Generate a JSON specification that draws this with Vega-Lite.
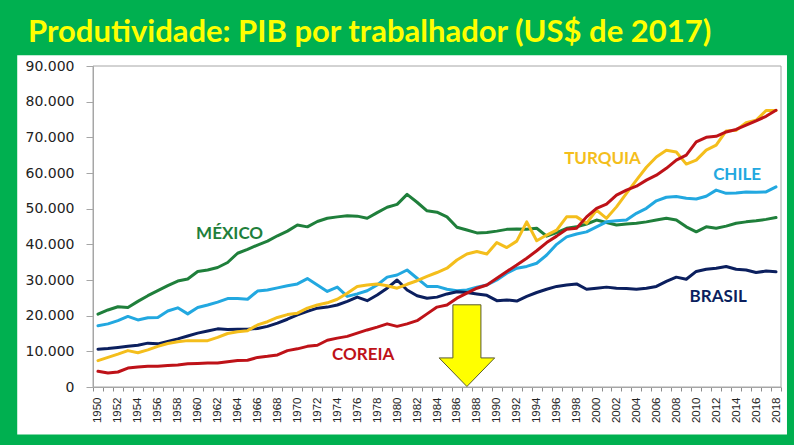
{
  "$schema": "https://vega.github.io/schema/vega-lite/v6.json",
  "width": 688,
  "height": 321,
  "autosize": {"type": "none"},
  "padding": {"left": 93, "top": 66, "right": 13, "bottom": 58},
  "background": "#00B050",
  "config": {"view": {"stroke": null}},
  "resolve": {"axis": {"x": "independent", "y": "independent"}},
  "title": {
    "text": "Produtividade: PIB por trabalhador (US$ de 2017)",
    "anchor": "start",
    "frame": "group",
    "dx": -65,
    "dy": 41,
    "offset": 23,
    "baseline": "alphabetic",
    "font": "Lato",
    "fontSize": 31,
    "fontWeight": "bold",
    "color": "#FFFF00"
  },
  "data": {
    "values": [
      {"ano": 1950, "Mexico": 20400, "Chile": 17200, "Brasil": 10600, "Turquia": 7400, "Coreia": 4400},
      {"ano": 1951, "Mexico": 21600, "Chile": 17700, "Brasil": 10800, "Turquia": 8300, "Coreia": 3900},
      {"ano": 1952, "Mexico": 22500, "Chile": 18600, "Brasil": 11100, "Turquia": 9200, "Coreia": 4200},
      {"ano": 1953, "Mexico": 22300, "Chile": 19800, "Brasil": 11400, "Turquia": 10200, "Coreia": 5300},
      {"ano": 1954, "Mexico": 24000, "Chile": 18800, "Brasil": 11700, "Turquia": 9600, "Coreia": 5600},
      {"ano": 1955, "Mexico": 25600, "Chile": 19400, "Brasil": 12300, "Turquia": 10400, "Coreia": 5800},
      {"ano": 1956, "Mexico": 27000, "Chile": 19500, "Brasil": 12100, "Turquia": 11400, "Coreia": 5800},
      {"ano": 1957, "Mexico": 28400, "Chile": 21300, "Brasil": 12800, "Turquia": 12200, "Coreia": 6000},
      {"ano": 1958, "Mexico": 29700, "Chile": 22200, "Brasil": 13500, "Turquia": 12700, "Coreia": 6200},
      {"ano": 1959, "Mexico": 30300, "Chile": 20500, "Brasil": 14300, "Turquia": 13000, "Coreia": 6500},
      {"ano": 1960, "Mexico": 32400, "Chile": 22300, "Brasil": 15100, "Turquia": 13000, "Coreia": 6600},
      {"ano": 1961, "Mexico": 32800, "Chile": 23000, "Brasil": 15700, "Turquia": 13000, "Coreia": 6700},
      {"ano": 1962, "Mexico": 33500, "Chile": 23800, "Brasil": 16300, "Turquia": 13900, "Coreia": 6700},
      {"ano": 1963, "Mexico": 34900, "Chile": 24800, "Brasil": 16100, "Turquia": 15000, "Coreia": 7100},
      {"ano": 1964, "Mexico": 37500, "Chile": 24800, "Brasil": 16200, "Turquia": 15500, "Coreia": 7400},
      {"ano": 1965, "Mexico": 38600, "Chile": 24600, "Brasil": 16200, "Turquia": 15800, "Coreia": 7500},
      {"ano": 1966, "Mexico": 39800, "Chile": 26900, "Brasil": 16400, "Turquia": 17400, "Coreia": 8300},
      {"ano": 1967, "Mexico": 40900, "Chile": 27200, "Brasil": 17000, "Turquia": 18300, "Coreia": 8600},
      {"ano": 1968, "Mexico": 42400, "Chile": 27800, "Brasil": 17900, "Turquia": 19500, "Coreia": 9000},
      {"ano": 1969, "Mexico": 43700, "Chile": 28400, "Brasil": 19000, "Turquia": 20300, "Coreia": 10200},
      {"ano": 1970, "Mexico": 45400, "Chile": 28900, "Brasil": 20200, "Turquia": 20700, "Coreia": 10700},
      {"ano": 1971, "Mexico": 44900, "Chile": 30400, "Brasil": 21200, "Turquia": 22100, "Coreia": 11400},
      {"ano": 1972, "Mexico": 46400, "Chile": 28600, "Brasil": 22100, "Turquia": 23000, "Coreia": 11700},
      {"ano": 1973, "Mexico": 47300, "Chile": 26800, "Brasil": 22400, "Turquia": 23600, "Coreia": 13100},
      {"ano": 1974, "Mexico": 47700, "Chile": 28000, "Brasil": 23000, "Turquia": 24600, "Coreia": 13700},
      {"ano": 1975, "Mexico": 48000, "Chile": 25400, "Brasil": 24000, "Turquia": 26300, "Coreia": 14200},
      {"ano": 1976, "Mexico": 47900, "Chile": 26100, "Brasil": 25200, "Turquia": 28200, "Coreia": 15100},
      {"ano": 1977, "Mexico": 47300, "Chile": 27000, "Brasil": 24200, "Turquia": 28600, "Coreia": 16000},
      {"ano": 1978, "Mexico": 48900, "Chile": 28600, "Brasil": 25800, "Turquia": 28900, "Coreia": 16800},
      {"ano": 1979, "Mexico": 50400, "Chile": 30800, "Brasil": 27700, "Turquia": 28400, "Coreia": 17700},
      {"ano": 1980, "Mexico": 51200, "Chile": 31400, "Brasil": 30000, "Turquia": 27700, "Coreia": 17000},
      {"ano": 1981, "Mexico": 54000, "Chile": 32800, "Brasil": 27200, "Turquia": 28800, "Coreia": 17700},
      {"ano": 1982, "Mexico": 51800, "Chile": 30500, "Brasil": 25600, "Turquia": 29800, "Coreia": 18600},
      {"ano": 1983, "Mexico": 49400, "Chile": 28200, "Brasil": 24900, "Turquia": 31000, "Coreia": 20500},
      {"ano": 1984, "Mexico": 49000, "Chile": 28200, "Brasil": 25200, "Turquia": 32100, "Coreia": 22400},
      {"ano": 1985, "Mexico": 47700, "Chile": 27400, "Brasil": 26100, "Turquia": 33300, "Coreia": 23000},
      {"ano": 1986, "Mexico": 44800, "Chile": 27000, "Brasil": 26700, "Turquia": 35600, "Coreia": 24900},
      {"ano": 1987, "Mexico": 44000, "Chile": 27200, "Brasil": 26500, "Turquia": 37300, "Coreia": 26300},
      {"ano": 1988, "Mexico": 43200, "Chile": 28000, "Brasil": 26100, "Turquia": 38000, "Coreia": 27700},
      {"ano": 1989, "Mexico": 43300, "Chile": 28600, "Brasil": 25700, "Turquia": 37300, "Coreia": 28600},
      {"ano": 1990, "Mexico": 43700, "Chile": 30000, "Brasil": 24200, "Turquia": 40500, "Coreia": 30500},
      {"ano": 1991, "Mexico": 44200, "Chile": 31900, "Brasil": 24400, "Turquia": 39100, "Coreia": 32400},
      {"ano": 1992, "Mexico": 44300, "Chile": 33300, "Brasil": 24100, "Turquia": 40900, "Coreia": 34200},
      {"ano": 1993, "Mexico": 44200, "Chile": 33800, "Brasil": 25400, "Turquia": 46300, "Coreia": 36100},
      {"ano": 1994, "Mexico": 44500, "Chile": 34700, "Brasil": 26500, "Turquia": 41000, "Coreia": 38200},
      {"ano": 1995, "Mexico": 42300, "Chile": 37000, "Brasil": 27400, "Turquia": 42600, "Coreia": 40500},
      {"ano": 1996, "Mexico": 43300, "Chile": 40000, "Brasil": 28200, "Turquia": 44000, "Coreia": 42300},
      {"ano": 1997, "Mexico": 44500, "Chile": 42100, "Brasil": 28600, "Turquia": 47700, "Coreia": 44200},
      {"ano": 1998, "Mexico": 44900, "Chile": 42900, "Brasil": 28900, "Turquia": 47700, "Coreia": 44500},
      {"ano": 1999, "Mexico": 45700, "Chile": 43500, "Brasil": 27400, "Turquia": 45900, "Coreia": 47700},
      {"ano": 2000, "Mexico": 46800, "Chile": 44900, "Brasil": 27700, "Turquia": 49600, "Coreia": 50100},
      {"ano": 2001, "Mexico": 46100, "Chile": 46300, "Brasil": 28000, "Turquia": 47300, "Coreia": 51300},
      {"ano": 2002, "Mexico": 45400, "Chile": 46600, "Brasil": 27700, "Turquia": 50500, "Coreia": 53800},
      {"ano": 2003, "Mexico": 45700, "Chile": 46800, "Brasil": 27600, "Turquia": 54300, "Coreia": 55200},
      {"ano": 2004, "Mexico": 45900, "Chile": 48700, "Brasil": 27400, "Turquia": 58000, "Coreia": 56300},
      {"ano": 2005, "Mexico": 46300, "Chile": 50100, "Brasil": 27700, "Turquia": 61600, "Coreia": 58000},
      {"ano": 2006, "Mexico": 46800, "Chile": 52200, "Brasil": 28200, "Turquia": 64500, "Coreia": 59400},
      {"ano": 2007, "Mexico": 47300, "Chile": 53200, "Brasil": 29600, "Turquia": 66400, "Coreia": 61300},
      {"ano": 2008, "Mexico": 46800, "Chile": 53400, "Brasil": 30800, "Turquia": 65900, "Coreia": 63600},
      {"ano": 2009, "Mexico": 44900, "Chile": 52900, "Brasil": 30200, "Turquia": 62500, "Coreia": 65000},
      {"ano": 2010, "Mexico": 43500, "Chile": 52700, "Brasil": 32400, "Turquia": 63600, "Coreia": 68700},
      {"ano": 2011, "Mexico": 44900, "Chile": 53500, "Brasil": 33000, "Turquia": 66400, "Coreia": 70000},
      {"ano": 2012, "Mexico": 44500, "Chile": 55200, "Brasil": 33300, "Turquia": 67800, "Coreia": 70300},
      {"ano": 2013, "Mexico": 45100, "Chile": 54300, "Brasil": 33800, "Turquia": 71800, "Coreia": 71500},
      {"ano": 2014, "Mexico": 45900, "Chile": 54400, "Brasil": 33000, "Turquia": 72000, "Coreia": 72200},
      {"ano": 2015, "Mexico": 46300, "Chile": 54700, "Brasil": 32800, "Turquia": 74100, "Coreia": 73400},
      {"ano": 2016, "Mexico": 46600, "Chile": 54600, "Brasil": 32100, "Turquia": 74800, "Coreia": 74600},
      {"ano": 2017, "Mexico": 47000, "Chile": 54700, "Brasil": 32500, "Turquia": 77500, "Coreia": 75900},
      {"ano": 2018, "Mexico": 47500, "Chile": 56100, "Brasil": 32300, "Turquia": 77500, "Coreia": 77600}
    ]
  },
  "layer": [
    {
      "data": {"values": [{}]},
      "mark": {"type": "rect", "fill": "#FFFFFF", "clip": false},
      "encoding": {
        "x": {"datum": 1941.9, "type": "quantitative", "axis": null},
        "x2": {"datum": 2019.1},
        "y": {"datum": 93000, "type": "quantitative", "axis": null},
        "y2": {"datum": -13350}
      }
    },
    {
      "data": {"values": [{}]},
      "mark": {"type": "rect", "fill": null, "stroke": "#A6A6A6", "strokeWidth": 1},
      "encoding": {
        "x": {"datum": 1949.5, "type": "quantitative", "axis": null},
        "x2": {"datum": 2018.5},
        "y": {"datum": 0, "type": "quantitative", "axis": null},
        "y2": {"datum": 90000}
      }
    },
    {
      "transform": [{"fold": ["Mexico", "Chile", "Brasil", "Turquia", "Coreia"], "as": ["pais", "valor"]}],
      "mark": {"type": "line", "strokeWidth": 3, "strokeJoin": "round", "strokeCap": "round"},
      "encoding": {
        "x": {
          "field": "ano", "type": "quantitative",
          "scale": {"domain": [1949.5, 2018.5], "nice": false, "zero": false},
          "axis": {
            "title": null,
            "values": [1949.5, 1950, 1950.5, 1951.5, 1952, 1952.5, 1953.5, 1954, 1954.5, 1955.5, 1956, 1956.5, 1957.5, 1958, 1958.5, 1959.5, 1960, 1960.5, 1961.5, 1962, 1962.5, 1963.5, 1964, 1964.5, 1965.5, 1966, 1966.5, 1967.5, 1968, 1968.5, 1969.5, 1970, 1970.5, 1971.5, 1972, 1972.5, 1973.5, 1974, 1974.5, 1975.5, 1976, 1976.5, 1977.5, 1978, 1978.5, 1979.5, 1980, 1980.5, 1981.5, 1982, 1982.5, 1983.5, 1984, 1984.5, 1985.5, 1986, 1986.5, 1987.5, 1988, 1988.5, 1989.5, 1990, 1990.5, 1991.5, 1992, 1992.5, 1993.5, 1994, 1994.5, 1995.5, 1996, 1996.5, 1997.5, 1998, 1998.5, 1999.5, 2000, 2000.5, 2001.5, 2002, 2002.5, 2003.5, 2004, 2004.5, 2005.5, 2006, 2006.5, 2007.5, 2008, 2008.5, 2009.5, 2010, 2010.5, 2011.5, 2012, 2012.5, 2013.5, 2014, 2014.5, 2015.5, 2016, 2016.5, 2017.5, 2018, 2018.5],
            "labelExpr": "datum.value % 2 == 0 ? toString(datum.value) : ''",
            "labelAngle": -90,
            "labelFont": "Liberation Sans",
            "labelFontSize": 11.5,
            "labelColor": "#222222",
            "labelPadding": 6,
            "labelOverlap": false,
            "labelBound": false,
            "labelFlush": false,
            "tickSize": 4,
            "tickColor": "#8C8C8C",
            "tickOpacity": {"condition": {"test": "datum.value % 1 == 0", "value": 0}, "value": 1},
            "domainColor": "#A6A6A6",
            "grid": false,
            "zindex": 1
          }
        },
        "y": {
          "field": "valor", "type": "quantitative",
          "scale": {"domain": [0, 90000], "nice": false},
          "axis": {
            "title": null,
            "values": [0, 10000, 20000, 30000, 40000, 50000, 60000, 70000, 80000, 90000],
            "labelExpr": "replace(format(datum.value, ','), ',', '.')",
            "labelFont": "DejaVu Sans",
            "labelFontSize": 14,
            "labelColor": "#222222",
            "labelPadding": 12,
            "labelOverlap": false,
            "tickSize": 7,
            "tickColor": "#A6A6A6",
            "domainColor": "#A6A6A6",
            "grid": false,
            "zindex": 1
          }
        },
        "color": {
          "field": "pais", "type": "nominal", "legend": null,
          "scale": {
            "domain": ["Mexico", "Chile", "Brasil", "Turquia", "Coreia"],
            "range": ["#1F7F3B", "#22A8E0", "#0B1F5E", "#F4BE1C", "#BE1218"]
          }
        }
      }
    },
    {
      "data": {"values": [{}]},
      "mark": {"type": "text", "text": "MÉXICO", "font": "Lato", "fontWeight": "bold", "fontSize": 17, "color": "#1F7F3B", "align": "center", "baseline": "middle"},
      "encoding": {"x": {"datum": 1963.2, "type": "quantitative", "axis": null}, "y": {"datum": 43000, "type": "quantitative", "axis": null}}
    },
    {
      "data": {"values": [{}]},
      "mark": {"type": "text", "text": "TURQUIA", "font": "Lato", "fontWeight": "bold", "fontSize": 17, "color": "#F4BE1C", "align": "center", "baseline": "middle"},
      "encoding": {"x": {"datum": 2000.6, "type": "quantitative", "axis": null}, "y": {"datum": 63800, "type": "quantitative", "axis": null}}
    },
    {
      "data": {"values": [{}]},
      "mark": {"type": "text", "text": "CHILE", "font": "Lato", "fontWeight": "bold", "fontSize": 17, "color": "#22A8E0", "align": "center", "baseline": "middle"},
      "encoding": {"x": {"datum": 2014.1, "type": "quantitative", "axis": null}, "y": {"datum": 59400, "type": "quantitative", "axis": null}}
    },
    {
      "data": {"values": [{}]},
      "mark": {"type": "text", "text": "COREIA", "font": "Lato", "fontWeight": "bold", "fontSize": 17, "color": "#BE1218", "align": "center", "baseline": "middle"},
      "encoding": {"x": {"datum": 1976.6, "type": "quantitative", "axis": null}, "y": {"datum": 9000, "type": "quantitative", "axis": null}}
    },
    {
      "data": {"values": [{}]},
      "mark": {"type": "text", "text": "BRASIL", "font": "Lato", "fontWeight": "bold", "fontSize": 17, "color": "#0B1F5E", "align": "center", "baseline": "middle"},
      "encoding": {"x": {"datum": 2012.2, "type": "quantitative", "axis": null}, "y": {"datum": 25200, "type": "quantitative", "axis": null}}
    },
    {
      "data": {"values": [{}]},
      "mark": {"type": "point", "shape": "M -0.343 -1 L 0.343 -1 L 0.343 0.3 L 0.68 0.3 L 0 1 L -0.68 0.3 L -0.343 0.3 Z", "size": 6675, "filled": true, "fill": "#FFFF00", "stroke": "#5A5A30", "strokeWidth": 1, "opacity": 1},
      "encoding": {"x": {"datum": 1987, "type": "quantitative", "axis": null}, "y": {"datum": 11590, "type": "quantitative", "axis": null}}
    }
  ]
}
